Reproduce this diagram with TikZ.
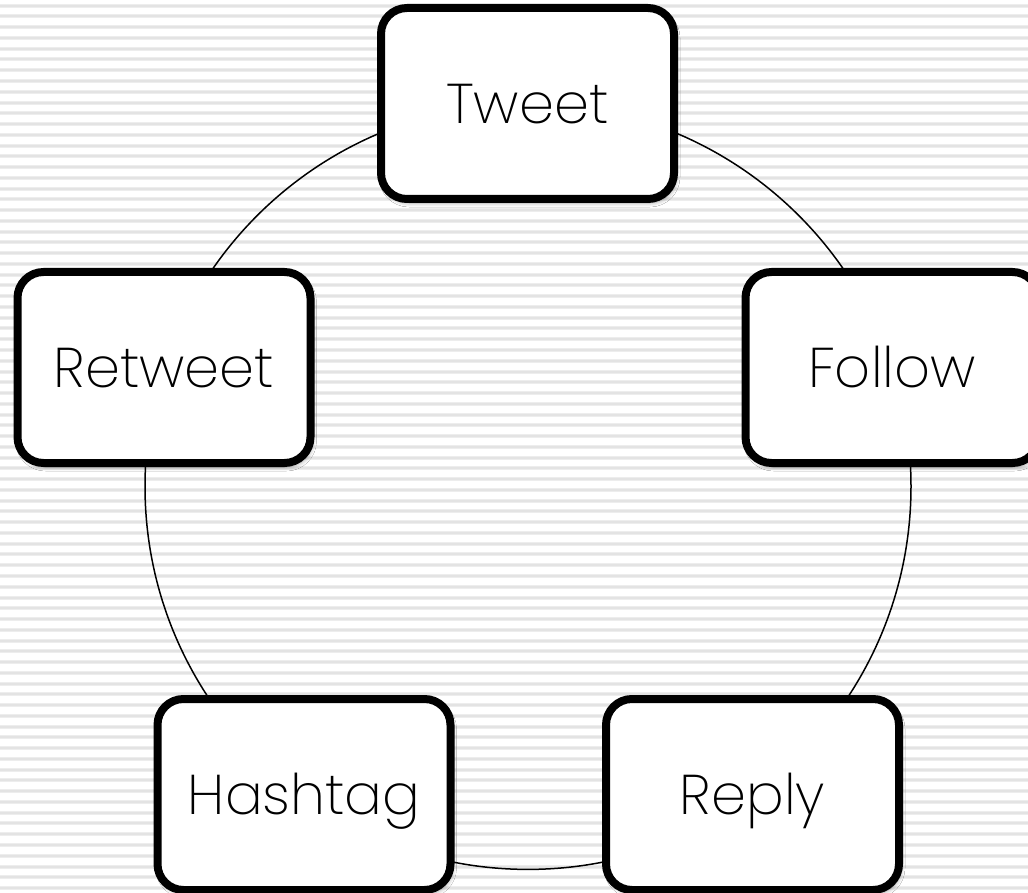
\documentclass[tikz,border=0pt]{standalone}
\usepackage{fontspec}
\IfFontExistsTF{Poppins ExtraLight}{\setmainfont{Poppins ExtraLight}}{\IfFontExistsTF{Poppins Light}{\setmainfont{Poppins Light}}{\setmainfont{Lato}}}
\usetikzlibrary{shadows.blur}
\definecolor{stripeA}{HTML}{EDEDED}
\definecolor{stripeB}{HTML}{E3E3E3}
\begin{document}
\begin{tikzpicture}[x=0.5pt,y=-0.5pt,
  actbox/.style={draw=black, line width=4pt, fill=white, rounded corners=13pt,
    minimum width=146.5pt, minimum height=95.5pt, inner sep=0pt,
    text height=20pt, text depth=0pt,
    font=\fontsize{28}{32}\selectfont,
    blur shadow={shadow xshift=1pt, shadow yshift=-2pt, shadow blur steps=6, shadow opacity=35, shadow blur radius=2pt}},
  ring/.style={draw=black, line width=0.75pt}]
\useasboundingbox (0,0) rectangle (1028,893);
\clip (0,0) rectangle (1028,893);
\fill[white] (0,0) rectangle (1028,893);
\foreach \i in {0,...,82}{
  \fill[stripeA] (0,{5.7+\i*10.76-2}) rectangle (1028,{5.7+\i*10.76+2});
  \fill[stripeB] (0,{5.7+\i*10.76-1}) rectangle (1028,{5.7+\i*10.76+1});
}
\coordinate (c) at (528,486.4);
\draw[ring] (c) circle[radius=383];
\node[actbox] (tweet)   at (527.5,103.5) {Tweet};
\node[actbox] (retweet) at (164,367.5)   {Retweet};
\node[actbox] (follow)  at (892,367.5)   {Follow};
\node[actbox] (hashtag) at (304,794.5)   {Hashtag};
\node[actbox] (reply)   at (752.5,794.5) {Reply};
\end{tikzpicture}
\end{document}
